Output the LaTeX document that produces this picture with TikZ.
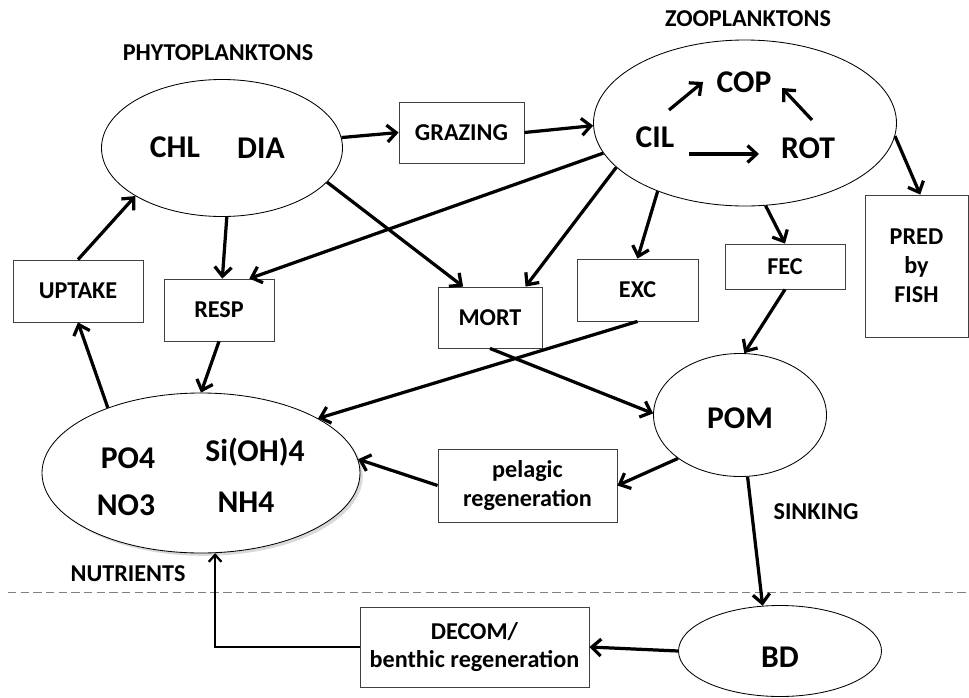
\documentclass[tikz,border=0pt]{standalone}
\usepackage{fontspec}
\setmainfont{Carlito}
\usetikzlibrary{arrows.meta,shadows,shapes.geometric}

\begin{document}
\begin{tikzpicture}[
    x=0.025cm, y=-0.025cm,
    pool/.style={draw=black, line width=0.6pt, ellipse, inner sep=0pt, fill=white},
    proc/.style={draw=black!75, line width=0.6pt, rectangle, inner sep=0pt, fill=white,
                 align=center, font=\fontsize{17.2}{20.5}\selectfont\bfseries},
    bigtxt/.style={font=\fontsize{22.5}{26}\selectfont\bfseries, inner sep=2pt},
    lbl/.style={font=\fontsize{17.2}{20.5}\selectfont\bfseries, inner sep=2pt},
    arr/.style={draw=black, line width=2.3pt, -{Straight Barb[length=6.5pt, width=12pt]}},
    thinarr/.style={draw=black, line width=1.6pt, -{Straight Barb[length=5pt, width=9pt]}},
    sea/.style={draw=black!50, line width=0.7pt, dash pattern=on 6pt off 3pt},
  ]
  \useasboundingbox (0,0) rectangle (969,698);

  % pools
  \node[pool, minimum width=241*0.025cm, minimum height=137*0.025cm] (phyto) at (222,148) {};
  \node[pool, minimum width=303*0.025cm, minimum height=166*0.025cm] (zoo) at (745,123) {};
  \node[pool, minimum width=318*0.025cm, minimum height=160*0.025cm,
        drop shadow={shadow xshift=2pt, shadow yshift=-2pt, opacity=0.3}] (nutr) at (201,473) {};
  \node[pool, minimum width=173*0.025cm, minimum height=123*0.025cm] (pom) at (740,415) {};
  \node[pool, minimum width=203*0.025cm, minimum height=91*0.025cm] (bd) at (780,651) {};

  % processes
  \node[proc, minimum width=125*0.025cm, minimum height=61*0.025cm] (grazing) at (461.5,132.5) {GRAZING};
  \node[proc, minimum width=130*0.025cm, minimum height=62*0.025cm] (uptake) at (78,291) {UPTAKE};
  \node[proc, minimum width=110*0.025cm, minimum height=62*0.025cm] (resp) at (219,310) {RESP};
  \node[proc, minimum width=104*0.025cm, minimum height=61*0.025cm] (mort) at (490,317.5) {MORT};
  \node[proc, minimum width=121*0.025cm, minimum height=62*0.025cm] (exc) at (637.5,290) {EXC};
  \node[proc, minimum width=120*0.025cm, minimum height=45*0.025cm] (fec) at (785,266.5) {FEC};
  \node[proc, minimum width=103*0.025cm, minimum height=142*0.025cm] (pred) at (916.5,266) {PRED\\by\\FISH};
  \node[proc, minimum width=179*0.025cm, minimum height=73*0.025cm] (pelagic) at (527.5,485.5) {pelagic\\regeneration};
  \node[proc, minimum width=229*0.025cm, minimum height=80*0.025cm] (decom) at (474.5,647) {DECOM/\\benthic regeneration};

  % texts
  \node[lbl] (phytolbl) at (218,53) {PHYTOPLANKTONS};
  \node[lbl] (zoolbl) at (748,19) {ZOOPLANKTONS};
  \node[lbl] (nutrlbl) at (128,574) {NUTRIENTS};
  \node[lbl] (sinklbl) at (816,512) {SINKING};
  \node[bigtxt] (chl) at (175,147) {CHL};
  \node[bigtxt] (dia) at (261,148) {DIA};
  \node[bigtxt] (cil) at (655,137) {CIL};
  \node[bigtxt] (cop) at (744,82) {COP};
  \node[bigtxt] (rot) at (808,148) {ROT};
  \node[bigtxt] (pomtxt) at (740,418) {POM};
  \node[bigtxt] (bdtxt) at (780,657) {BD};
  \node[bigtxt] (po4) at (128,458) {PO4};
  \node[bigtxt] (sioh) at (255,452) {Si(OH)4};
  \node[bigtxt] (no3) at (126,505) {NO3};
  \node[bigtxt] (nh4) at (246,502) {NH4};

  \draw[sea] (8,592) -- (969,592);

  % fluxes
  \draw[arr] (phyto.5) -- (grazing.west);
  \draw[arr] (grazing.east) -- (zoo.181);
  \draw[arr] (phyto.274) -- (resp.84);
  \draw[arr] (phyto.342) -- (mort.131);
  \draw[arr] (zoo.199) -- (mort.41);
  \draw[arr] (zoo.192.6) -- (resp.46);
  \draw[arr] (zoo.218) -- (exc.north);
  \draw[arr] (zoo.284) -- (fec.north);
  \draw[arr] (zoo.355) -- (pred.87);
  \draw[arr] ([shift={(14,-27)}]cil.center) -- ([shift={(-41,0)}]cop.center);
  \draw[arr] ([shift={(4,-28)}]rot.center) -- ([shift={(38,6)}]cop.center);
  \draw[arr] ([shift={(34,17)}]cil.center) -- ([shift={(-49,6)}]rot.center);
  \draw[arr] (fec.south) -- (pom.86);
  \draw[arr] (mort.south) -- (pom.179);
  \draw[arr] (exc.south) -- (nutr.25.4);
  \draw[arr] (resp.south) -- (nutr.north);
  \draw[arr] (nutr.145) -- (uptake.south);
  \draw[arr] (uptake.north) -- (phyto.209);
  \draw[arr] (pom.215) -- (pelagic.east);
  \draw[arr] (pelagic.west) -- (nutr.5);
  \draw[arr] (pom.277.5) -- (bd.111);
  \draw[arr] (bd.west) -- (decom.east);
  \draw[thinarr] (decom.west) -| (nutr.280);
\end{tikzpicture}
\end{document}
